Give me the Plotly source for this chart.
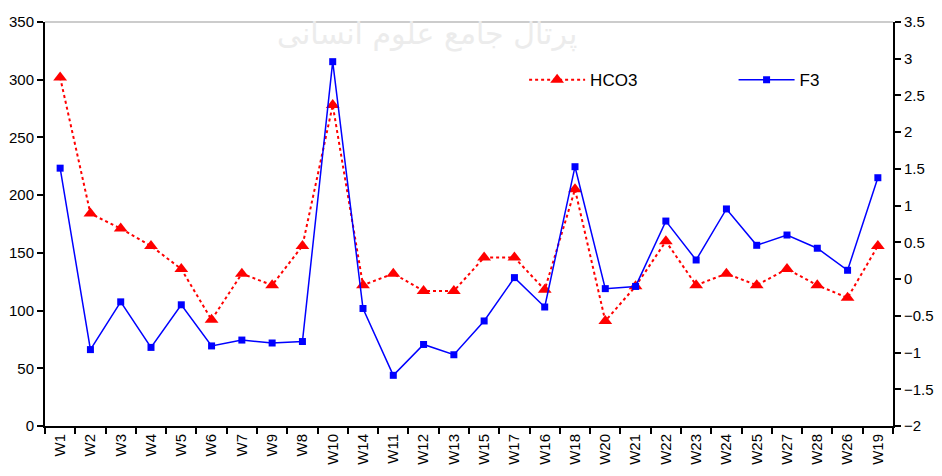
import plotly.graph_objects as go

categories = ["W1", "W2", "W3", "W4", "W5", "W6", "W7", "W9", "W8", "W10",
              "W14", "W11", "W12", "W13", "W15", "W17", "W16", "W18", "W20", "W21",
              "W22", "W23", "W24", "W25", "W27", "W28", "W26", "W19"]
hco3 = [302, 184, 171, 156, 136, 92, 132, 122, 156, 278,
        122, 132, 117, 117, 146, 146, 118, 205, 91, 121,
        160, 122, 132, 122, 136, 122, 111, 156]
f3 = [1.51, -0.96, -0.31, -0.93, -0.35, -0.91, -0.83, -0.87, -0.85, 2.96,
      -0.40, -1.31, -0.89, -1.03, -0.57, 0.02, -0.38, 1.53, -0.13, -0.10,
      0.79, 0.26, 0.955, 0.46, 0.60, 0.42, 0.12, 1.38]
left_ticks = [0, 50, 100, 150, 200, 250, 300, 350]
right_ticks = [-2, -1.5, -1, -0.5, 0, 0.5, 1, 1.5, 2, 2.5, 3, 3.5]

font_family = "Liberation Sans, Arial, sans-serif"

fig = go.Figure()
fig.add_trace(go.Scatter(
    x=categories, y=hco3, name="HCO3", mode="lines+markers",
    line=dict(color="#ff0000", width=2, dash="dot"),
    marker=dict(symbol="triangle-up", size=12, color="#ff0000"),
    yaxis="y", legend="legend",
))
fig.add_trace(go.Scatter(
    x=categories, y=f3, name="F3", mode="lines+markers",
    line=dict(color="#0000ff", width=1.5),
    marker=dict(symbol="square", size=7, color="#0000ff"),
    yaxis="y2", legend="legend2",
))

leg_common = dict(xanchor="left", yanchor="middle", bgcolor="rgba(0,0,0,0)",
                  itemwidth=56, font=dict(size=17), borderwidth=0)

fig.update_layout(
    width=926, height=460,
    margin=dict(l=37, r=41, t=14, b=42, autoexpand=False),
    plot_bgcolor="white", paper_bgcolor="white",
    font=dict(family=font_family, size=15, color="black"),
    showlegend=True,
    legend=dict(x=0.565, y=0.856, **leg_common),
    legend2=dict(x=0.812, y=0.856, **leg_common),
    xaxis=dict(
        type="category", tickangle=-90, tickson="boundaries",
        ticks="outside", ticklen=6, tickwidth=1.5, tickcolor="black",
        showline=True, linecolor="black", linewidth=2,
        showgrid=False, zeroline=False, range=[-0.5, 27.5],
        tickfont=dict(size=15),
    ),
    yaxis=dict(
        range=[0, 350], tickvals=left_ticks,
        ticks="outside", ticklen=6, tickwidth=1.5, tickcolor="black",
        showline=True, linecolor="black", linewidth=2,
        showgrid=False, zeroline=False, tickfont=dict(size=15),
    ),
    yaxis2=dict(
        range=[-2, 3.5], tickvals=right_ticks, overlaying="y", side="right",
        ticks="outside", ticklen=6, tickwidth=1.5, tickcolor="black",
        showline=True, linecolor="black", linewidth=2,
        showgrid=False, zeroline=False, tickfont=dict(size=15),
    ),
    shapes=[dict(type="line", xref="paper", yref="paper", x0=0, x1=1, y0=1, y1=1,
                 line=dict(color="#999999", width=1))],
    annotations=[dict(text="پرتال جامع علوم انسانی", xref="paper", yref="paper",
                      x=0.45, y=1.02, showarrow=False,
                      font=dict(family="DejaVu Sans", size=30, color="#ececec"))],
)

fig.write_html("out.html")
